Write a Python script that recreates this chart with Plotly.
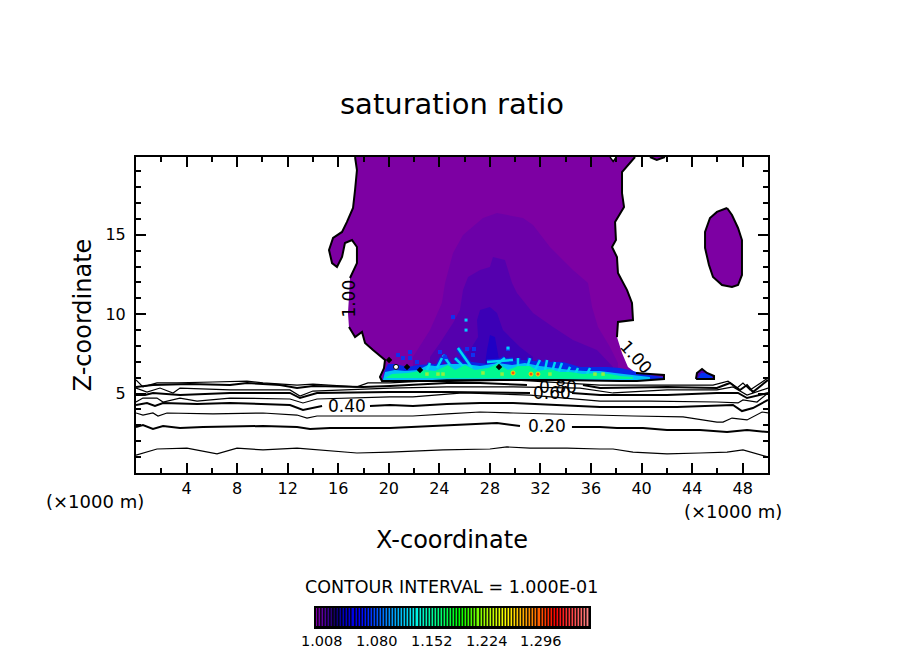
import plotly.graph_objects as go

FONT = "DejaVu Sans"

# axis ticks
x_ticks = [4, 8, 12, 16, 20, 24, 28, 32, 36, 40, 44, 48]
y_ticks = [5, 10, 15]

# saturation ratio = 1.00 contour, main cloud (x in 1000 m, z in 1000 m)
cloud_x = [17.33, 17.48, 17.33, 17.17, 16.69, 16.30, 15.59, 15.27, 15.51, 15.90, 16.30, 16.53, 17.09, 17.48, 17.48, 16.93,
           16.85, 16.77, 16.85, 17.33, 17.88, 18.12, 18.75, 19.70, 19.62, 19.30, 19.46, 24.84, 28.80, 33.54, 38.29, 39.64,
           41.77, 41.77, 40.66, 39.56, 38.92, 38.45, 38.05, 38.13, 39.32, 39.24, 38.85, 38.13, 38.05, 37.66, 37.97, 37.90,
           38.61, 38.45, 38.45, 39.48]
cloud_y = [19.9, 19.08, 17.82, 16.69, 15.81, 15.18, 14.80, 14.04, 13.22, 12.97, 13.60, 14.48, 14.67, 14.23, 13.22, 12.28,
           11.08, 10.08, 9.19, 8.56, 8.88, 8.19, 7.75, 7.12, 6.61, 6.05, 5.79, 5.79, 5.86, 5.86, 5.79, 5.79,
           5.92, 6.17, 6.23, 6.30, 6.68, 7.56, 8.56, 9.51, 9.63, 10.71, 11.52, 12.59, 13.60, 14.23, 14.67, 15.81,
           16.75, 17.63, 18.95, 19.9]

# detached cloud pieces
island_x = [46.76, 47.15, 47.63, 47.94, 47.94, 47.94, 47.63, 47.15, 46.36, 45.65, 45.33, 45.02, 45.02, 45.41, 45.96, 46.76]
island_y = [16.69, 16.25, 15.43, 14.67, 13.73, 12.47, 11.84, 11.71, 11.84, 12.34, 13.10, 14.17, 15.18, 16.06, 16.44, 16.69]
patch_x = [44.3, 44.38, 44.78, 45.17, 45.73, 45.73, 44.3]
patch_y = [5.92, 6.3, 6.55, 6.3, 6.11, 5.92, 5.92]
patch_core_x = [44.46, 44.7, 45.0, 45.57, 45.57, 44.46]
patch_core_y = [5.98, 6.3, 6.3, 6.11, 5.98, 5.98]
top_cap_x = [40.66, 41.2, 41.85, 40.66]
top_cap_y = [19.9, 19.72, 19.9, 19.9]
top_hole_x = [37.5, 37.75, 38.0, 37.5]
top_hole_y = [19.9, 19.62, 19.9, 19.9]

# inner shading bands of the plume
band1_x = [21.91, 23.26, 24.2, 24.45, 25.08, 25.87, 27.45, 28.56, 30.62, 31.41, 32.75, 34.57, 35.76, 36.08, 36.55, 37.5, 38.13, 38.13, 21.91]
band1_y = [7.30, 9.0, 10.7, 11.96, 13.85, 14.99, 16.06, 16.37, 16.06, 15.62, 14.23, 12.78, 11.96, 10.45, 9.19, 7.93, 6.93, 5.98, 5.98]
band2_x = [23.26, 24.05, 25.08, 25.63, 25.87, 26.27, 27.22, 28.0, 28.24, 29.19, 29.75, 30.14, 31.41, 32.99, 34.57, 36.47, 37.74, 37.74, 23.26]
band2_y = [7.30, 8.19, 9.45, 10.26, 11.52, 12.34, 12.78, 12.97, 13.6, 13.41, 11.96, 11.34, 10.08, 9.19, 8.38, 7.75, 6.68, 5.98, 5.98]
band3_x = [25.63, 26.42, 27.06, 26.98, 27.22, 28.0, 28.56, 29.03, 30.38, 31.41, 31.41, 25.63]
band3_y = [7.30, 7.75, 8.56, 9.63, 10.26, 10.45, 10.08, 9.0, 7.93, 7.30, 5.98, 5.98]
band4_x = [27.77, 28.0, 28.4, 28.56, 28.8, 27.6, 27.77]
band4_y = [7.75, 8.69, 8.56, 7.75, 6.8, 6.8, 7.75]

# high supersaturation layer near cloud base
blue_x = [19.46, 19.70, 19.94, 20.49, 21.52, 22.31, 23.65, 24.84, 26.58, 27.85, 28.64, 29.75, 30.54, 31.41, 32.52, 33.78, 35.13, 36.16, 37.26, 38.29, 39.08, 40.11, 41.69, 41.69, 39.64, 19.46]
blue_y = [5.79, 6.49, 6.87, 6.87, 6.68, 6.80, 6.87, 6.86, 6.99, 6.87, 7.05, 7.05, 7.12, 7.05, 6.99, 6.99, 6.68, 6.68, 6.68, 6.61, 6.49, 6.23, 6.05, 5.92, 5.79, 5.79]
cyan_x = [19.54, 19.70, 20.49, 21.28, 22.31, 23.10, 23.65, 24.68, 26.03, 27.22, 28.64, 29.75, 30.77, 31.96, 33.15, 34.34, 35.52, 36.71, 37.90, 39.48, 40.66, 40.66, 19.54]
cyan_y = [5.86, 6.36, 6.49, 6.42, 6.49, 6.80, 6.74, 6.87, 6.87, 6.74, 6.93, 6.80, 6.93, 6.74, 6.61, 6.49, 6.42, 6.42, 6.30, 6.17, 6.05, 5.86, 5.86]
green_x = [19.70, 20.25, 21.52, 22.86, 23.65, 24.68, 25.24, 26.03, 26.82, 27.85, 28.64, 29.43, 30.22, 31.17, 31.80, 32.75, 33.54, 34.34, 35.36, 36.47, 37.5, 38.29, 39.32, 39.32, 19.70]
green_y = [5.98, 6.23, 6.30, 6.49, 6.42, 6.80, 6.49, 6.80, 6.49, 6.61, 6.87, 6.49, 6.74, 6.74, 6.42, 6.55, 6.36, 6.36, 6.23, 6.30, 6.23, 6.11, 6.05, 5.92, 5.98]

# updraft streaks rising out of the layer
streak_x = [25.47, 26.58, None, 24.29, 24.84, None, 25.24, 26.03, None, 31.17, 30.93, None, 31.96, 31.57, None, 32.52, 32.36, None,
            33.15, 32.91, None, 33.70, 33.39, None, 34.34, 34.10, None, 34.97, 34.73, None, 35.92, 35.68, None, 29.19, 28.16, None,
            30.22, 30.22, None, 24.21, 23.81, None, 23.26, 23.02, None, 27.77, 29.83]
streak_y = [7.87, 6.61, None, 7.43, 6.80, None, 7.24, 6.61, None, 7.24, 6.61, None, 7.12, 6.49, None, 7.12, 6.49, None,
            6.99, 6.36, None, 6.93, 6.30, None, 6.68, 6.30, None, 6.61, 6.23, None, 6.61, 6.23, None, 7.24, 6.61, None,
            7.24, 6.61, None, 7.24, 6.61, None, 6.93, 6.49, None, 6.99, 7.12]

# isolated cells
blue_speck_x = [20.73, 21.12, 21.68, 22.23, 24.05, 24.45, 26.19, 26.74, 26.66, 29.43, 25.08, 21.68]
blue_speck_y = [7.43, 7.24, 7.24, 6.99, 7.62, 7.30, 7.81, 7.81, 7.43, 7.81, 9.82, 7.62]
cyan_speck_x = [26.11, 26.11, 29.43]
cyan_speck_y = [9.63, 9.0, 7.87]
black_blob_x = [20.02, 21.44, 22.47, 28.72]
black_blob_y = [7.12, 6.68, 6.49, 6.68]
hole_x = [20.57]
hole_y = [6.68]
lime_x = [23.02, 23.89, 24.29, 27.45, 28.96, 32.75, 36.31, 36.95]
lime_y = [6.23, 6.23, 6.23, 6.30, 6.23, 6.23, 6.23, 6.23]
hot_x = [29.83, 31.25, 31.80]
hot_y = [6.30, 6.23, 6.23]

# subsaturated contours, gaps (None) are where the labels sit
c010_x = [0, 1.66, 4.03, 6.41, 7.99, 10.05, 12.74, 15.35, 17.48, 20.09, 21.91, 24.29, 28.0, 29.35, 31.17, 34.1, 36.71, 37.74, 39.32, 42.01, 44.62, 46.76, 48.02, 50]
c010_y = [1.13, 1.51, 1.57, 1.20, 1.57, 1.45, 1.57, 1.39, 1.26, 1.32, 1.39, 1.45, 1.51, 1.64, 1.57, 1.57, 1.51, 1.51, 1.32, 1.20, 1.26, 1.32, 1.45, 1.01]
c020_x = [0, 0.55, 1.34, 2.14, 3.48, 5.30, 10.05, 12.74, 13.77, 15.35, 20.09, 21.91, 25.87, 28.56, 30.38, None, 34.49, 36.71, 38.05, 40.11, 42.01, 44.62, 46.76, 48.34, 50]
c020_y = [2.90, 3.02, 2.77, 2.96, 2.83, 2.90, 2.96, 2.90, 2.77, 2.83, 2.83, 2.90, 3.02, 3.15, 2.96, None, 2.90, 2.90, 2.83, 2.83, 2.71, 2.71, 2.58, 2.71, 2.58]
c030_x = [0, 0.55, 1.34, 1.74, 2.45, 6.09, 10.05, 12.74, 13.53, 14.32, 20.09, 21.91, 24.60, 27.22, 29.83, 37.5, 39.32, 43.28, 45.96, 46.44, 47.15, 48.34, 49.53, 50]
c030_y = [3.78, 3.65, 3.78, 3.59, 3.78, 3.72, 3.78, 3.65, 3.46, 3.59, 3.59, 3.59, 3.72, 3.84, 3.78, 3.59, 3.59, 3.53, 3.21, 3.21, 3.46, 3.34, 3.84, 3.78]
c040_x = [0, 0.87, 1.50, 2.14, 4.83, 7.44, 12.18, 13.21, 14.72, None, 18.51, 20.09, 21.91, 24.60, 27.22, 29.83, 36.71, 39.32, 42.80, 47.23, 47.94, 48.81, 50]
c040_y = [4.28, 4.41, 4.22, 4.41, 4.35, 4.41, 4.28, 3.97, 4.22, None, 4.22, 4.28, 4.22, 4.35, 4.41, 4.41, 4.16, 4.16, 4.16, 4.28, 3.90, 4.09, 4.60]
c050_x = [0, 0.55, 1.66, 2.14, 3.48, 4.83, 7.44, 12.18, 13.21, 14.32, 20.09, 21.91, 25.87, 31.17, 36.71, 40.66, 45.96, 47.63, 48.02, 49.13, 50]
c050_y = [4.47, 4.72, 4.72, 4.47, 4.72, 4.53, 4.72, 4.66, 4.41, 4.66, 4.79, 4.79, 5.04, 4.91, 4.53, 4.53, 4.47, 4.41, 4.60, 4.47, 5.04]
c060_x = [0, 0.71, 1.34, 3.48, 7.44, 12.18, 12.97, 14.32, 20.09, 24.60, 31.17, None, 34.49, 36.71, 42.01, 45.96, 47.63, 48.34, 50]
c060_y = [4.91, 4.91, 5.04, 4.91, 5.04, 5.04, 4.72, 5.04, 5.10, 5.10, 5.04, None, 5.04, 4.91, 4.91, 5.04, 5.04, 4.72, 5.04]
c070_x = [0, 0.87, 1.90, 2.93, 3.48, 7.44, 12.18, 12.97, 14.0, 20.09, 24.60, 29.83, 35.13, 36.71, 37.74, 42.01, 45.96, 47.23, 48.34, 50]
c070_y = [5.35, 5.10, 5.35, 5.04, 5.35, 5.23, 5.23, 4.85, 5.16, 5.35, 5.42, 5.42, 5.35, 5.16, 5.04, 5.23, 5.23, 5.42, 4.91, 5.35]
c080_x = [0, 1.34, 4.27, 7.44, 8.78, 11.39, 12.74, 14.0, 17.96, 20.09, 24.60, 27.22, 30.93, None, 35.36, 36.71, 42.01, 45.96, 46.99, 47.78, 48.34, 48.81, 50]
c080_y = [5.42, 5.54, 5.60, 5.54, 5.67, 5.54, 5.35, 5.48, 5.42, 5.48, 5.67, 5.67, 5.54, None, 5.54, 5.35, 5.42, 5.35, 5.67, 5.23, 5.54, 5.10, 5.86]
c090_x = [0, 0.55, 1.66, 3.24, 6.09, 8.78, 10.05, 12.74, 14.0, 17.48, 18.35, 20.09, 24.60, 29.83, 36.71, 42.48, 45.65, 46.84, 47.55, 48.02, 48.58, 50]
c090_y = [5.86, 5.42, 5.67, 5.67, 5.73, 5.79, 5.67, 5.54, 5.60, 5.42, 5.67, 5.67, 5.86, 5.86, 5.54, 5.54, 5.54, 5.79, 5.35, 5.67, 5.23, 5.98]
thin_levels = [(c010_x, c010_y), (c030_x, c030_y), (c050_x, c050_y), (c070_x, c070_y), (c090_x, c090_y)]
thick_levels = [(c020_x, c020_y), (c040_x, c040_y), (c060_x, c060_y), (c080_x, c080_y)]

# contour labels
label_texts = ["0.20", "0.40", "0.60", "0.80", "1.00", "1.00"]
label_x = [32.5, 16.7, 32.9, 33.4, 16.85, 39.56]
label_y = [2.96, 4.22, 5.04, 5.42, 10.98, 7.3]
label_angle = [0, 0, 0, 0, -90, 48]

# colour bar
cb_levels = [round(1.008 + 0.004 * i, 3) for i in range(90)]
cb_labels = [1.008, 1.080, 1.152, 1.224, 1.296]
cb_scale = [
    [0.0, "#8000a8"], [0.04, "#400098"], [0.07, "#100060"], [0.10, "#0000c0"], [0.16, "#0000ff"],
    [0.27, "#0090ff"], [0.36, "#00f0f0"], [0.45, "#00ff80"], [0.53, "#00ff00"], [0.62, "#a0ff00"],
    [0.70, "#ffff00"], [0.80, "#ff8000"], [0.88, "#ff0000"], [1.0, "#ff8080"],
]

fig = go.Figure()


def add_fill(xs, ys, color):
    fig.add_trace(go.Scatter(x=xs, y=ys, mode="lines", fill="toself", fillcolor=color,
                             line=dict(width=0, color=color), hoverinfo="skip"))


def add_line(xs, ys, width, color="black"):
    fig.add_trace(go.Scatter(x=xs, y=ys, mode="lines", line=dict(color=color, width=width),
                             connectgaps=False, hoverinfo="skip"))


def add_cells(xs, ys, color, size, symbol="square", line_color=None):
    fig.add_trace(go.Scatter(x=xs, y=ys, mode="markers", hoverinfo="skip",
                             marker=dict(color=color, size=size, symbol=symbol,
                                         line=dict(color=line_color or color, width=1 if line_color else 0))))


def add_page_text(text, px, py, size):
    # px, py are page pixels of the text centre
    fig.add_annotation(x=(px - 136) / 632, y=(634 - py) / 477, xref="paper", yref="paper", text=text,
                       xanchor="center", yanchor="middle", showarrow=False,
                       font=dict(family=FONT, size=size, color="black"))


# filled regions, back to front
PURPLE = "#7d00a3"
add_fill(cloud_x, cloud_y, PURPLE)
add_fill(island_x, island_y, PURPLE)
add_fill(top_cap_x, top_cap_y, PURPLE)
add_fill(top_hole_x, top_hole_y, "white")
add_fill(patch_x, patch_y, "#4a00b0")
add_fill(patch_core_x, patch_core_y, "#0030f0")
add_fill(band1_x, band1_y, "#6c00a8")
add_fill(band2_x, band2_y, "#5500ae")
add_fill(band3_x, band3_y, "#3c00b6")
add_fill(band4_x, band4_y, "#2000c4")
add_fill(blue_x, blue_y, "#0828e8")
add_line(streak_x, streak_y, 5, "#0828e8")
add_fill(cyan_x, cyan_y, "#00c0f8")
add_line(streak_x, streak_y, 2.5, "#00d8f0")
add_fill(green_x, green_y, "#00f890")
add_cells(blue_speck_x, blue_speck_y, "#1030f0", 4)
add_cells(cyan_speck_x, cyan_speck_y, "#00d0ff", 3)
add_cells(lime_x, lime_y, "#90f040", 3.5)
add_cells(hot_x, hot_y, "#ff5010", 4, "circle", "#f0e000")
add_cells(black_blob_x, black_blob_y, "black", 5, "diamond")
add_cells(hole_x, hole_y, "white", 5, "circle", "black")

# 1.00 contour with breaks for its two labels
cloud_line_x = cloud_x[:16] + [None] + cloud_x[18:36] + [None] + cloud_x[38:]
cloud_line_y = cloud_y[:16] + [None] + cloud_y[18:36] + [None] + cloud_y[38:]
add_line(cloud_line_x, cloud_line_y, 2)
add_line(island_x, island_y, 2)
add_line(patch_x, patch_y, 2)
add_line(top_cap_x[:3], top_cap_y[:3], 2)
add_line(top_hole_x[:3], top_hole_y[:3], 1.5)

for xs, ys in thin_levels:
    add_line(xs, ys, 1.2)
for xs, ys in thick_levels:
    add_line(xs, ys, 2)

# colour bar drawn as bars on its own axes
fig.add_trace(go.Bar(x=cb_levels, y=[1] * len(cb_levels), xaxis="x2", yaxis="y2", width=0.004, hoverinfo="skip",
                     marker=dict(color=cb_levels, colorscale=cb_scale, cmin=cb_levels[0], cmax=cb_levels[-1],
                                 line=dict(color="black", width=1.1))))

for text, lx, ly, angle in zip(label_texts, label_x, label_y, label_angle):
    fig.add_annotation(x=lx, y=ly, xref="x", yref="y", text=text, textangle=angle, showarrow=False,
                       font=dict(family=FONT, size=17, color="black"))

for value in cb_labels:
    fig.add_annotation(x=value, xref="x2", xshift=5, y=(634 - 641) / 477, yref="paper", xanchor="center", yanchor="middle",
                       text=f"{value:.3f}", showarrow=False, font=dict(family=FONT, size=14.5, color="black"))

add_page_text("CONTOUR INTERVAL = 1.000E-01", 451, 587, 17.5)
add_page_text("(×1000 m)", 95, 501, 18)
add_page_text("(×1000 m)", 733, 511, 18)

# the page keeps an 8px body margin, so the figure starts at (8, 8) in the window
fig.update_layout(
    width=888, height=646, autosize=False,
    margin=dict(l=128, r=128, t=149, b=20),
    paper_bgcolor="white", plot_bgcolor="white",
    showlegend=False, bargap=0,
    title=dict(text="saturation ratio", x=(452 - 8) / 888, y=1 - 96 / 646, xanchor="center", yanchor="middle",
               font=dict(family=FONT, size=29, color="black")),
    xaxis=dict(domain=[0, 1], range=[0, 50], tickvals=x_ticks, ticks="inside", ticklen=10, tickwidth=2, tickcolor="black",
               minor=dict(dtick=2, ticks="inside", ticklen=5, tickwidth=1.5, tickcolor="black"),
               showgrid=False, zeroline=False, showline=True, linecolor="black", linewidth=2, mirror="allticks",
               ticklabelstandoff=0, tickfont=dict(family=FONT, size=16, color="black"),
               title=dict(text="X-coordinate", standoff=34, font=dict(family=FONT, size=24, color="black"))),
    yaxis=dict(domain=[(634 - 473) / 477, 1], range=[0, 19.9], tickvals=y_ticks, ticks="inside", ticklen=10, tickwidth=2, tickcolor="black",
               minor=dict(dtick=1, ticks="inside", ticklen=5, tickwidth=1.5, tickcolor="black"),
               showgrid=False, zeroline=False, showline=True, linecolor="black", linewidth=2, mirror="allticks",
               ticklabelstandoff=5, tickfont=dict(family=FONT, size=16, color="black"),
               title=dict(text="Z-coordinate", standoff=7, font=dict(family=FONT, size=24, color="black"))),
    xaxis2=dict(domain=[(315.5 - 136) / 632, (589 - 136) / 632], anchor="y2", range=[1.0062, 1.3649],
                showticklabels=False, ticks="", showgrid=False, zeroline=False, showline=True,
                linecolor="black", linewidth=2, mirror=True),
    yaxis2=dict(domain=[(634 - 627) / 477, (634 - 608) / 477], anchor="x2", range=[0, 1],
                showticklabels=False, ticks="", showgrid=False, zeroline=False, showline=True,
                linecolor="black", linewidth=2, mirror=True),
)

fig.write_html("out.html")
